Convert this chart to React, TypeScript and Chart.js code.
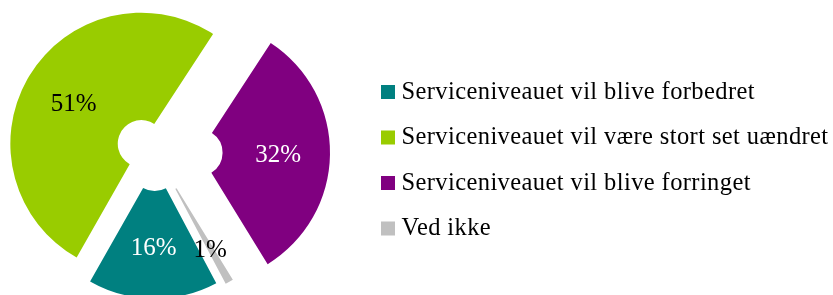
import React, { useEffect, useRef } from 'react';
import { Chart, registerables } from 'chart.js';

Chart.register(...registerables);

const categories = [
  'Serviceniveauet vil blive forbedret',
  'Serviceniveauet vil være stort set uændret',
  'Serviceniveauet vil blive forringet',
  'Ved ikke',
];
const values = [16, 51, 32, 1];
const percentLabels = ['16%', '51%', '32%', '1%'];

const sliceColors = ['#008080', '#99CC00', '#800080', '#C0C0C0'];
const labelColors = ['#FFFFFF', '#000000', '#FFFFFF', '#000000'];
// explosion distance (px) of each slice along its bisector
const explodeDistance = [15.5, 16, 44, 18.5];

const FONT_FAMILY = '"Liberation Serif", "Times New Roman", serif';

const explodePlugin = {
  id: 'explodeSlices',
  afterDatasetsUpdate(chart: any) {
    const meta = chart.getDatasetMeta(0);
    meta.data.forEach((arc: any, i: number) => {
      const mid = (arc.startAngle + arc.endAngle) / 2;
      const d = explodeDistance[i] || 0;
      arc.x += Math.cos(mid) * d;
      arc.y += Math.sin(mid) * d;
    });
  },
};

const sliceLabelPlugin = {
  id: 'sliceLabels',
  afterDatasetsDraw(chart: any) {
    const ctx = chart.ctx;
    const meta = chart.getDatasetMeta(0);
    ctx.save();
    ctx.font = `25px ${FONT_FAMILY}`;
    ctx.textAlign = 'center';
    ctx.textBaseline = 'middle';
    meta.data.forEach((arc: any, i: number) => {
      const mid = (arc.startAngle + arc.endAngle) / 2;
      let r = (arc.innerRadius + arc.outerRadius) / 2 + 2;
      if (values[i] < 5) r += 13;
      ctx.fillStyle = labelColors[i];
      ctx.fillText(percentLabels[i], arc.x + Math.cos(mid) * r, arc.y + Math.sin(mid) * r + 2);
    });
    ctx.restore();
  },
};

const legendPlugin = {
  id: 'sideLegend',
  afterDraw(chart: any) {
    const ctx = chart.ctx;
    const boxX = 381;
    const box = 14;
    const firstY = 92;
    const step = 45.5;
    ctx.save();
    ctx.font = `24.5px ${FONT_FAMILY}`;
    try {
      (ctx as any).letterSpacing = '0.4px';
    } catch (e) {
      /* ignore */
    }
    ctx.textAlign = 'left';
    ctx.textBaseline = 'alphabetic';
    categories.forEach((label, i) => {
      const cy = firstY + i * step;
      ctx.fillStyle = sliceColors[i];
      ctx.fillRect(boxX, cy - box / 2, box, box);
      ctx.fillStyle = '#000000';
      ctx.fillText(label, boxX + 20.5, cy + 6.5);
    });
    ctx.restore();
  },
};

export default function App() {
  const canvasRef = useRef<HTMLCanvasElement>(null);

  useEffect(() => {
    const canvas = canvasRef.current;
    if (!canvas) return;
    const chart = new Chart(canvas, {
      type: 'doughnut',
      data: {
        labels: categories,
        datasets: [
          {
            data: values,
            backgroundColor: sliceColors,
            borderWidth: 0,
          },
        ],
      },
      options: {
        responsive: false,
        animation: false,
        rotation: 152,
        cutout: '18%',
        radius: 131,
        layout: { padding: { left: 0, right: 523, top: 9, bottom: 0 } },
        events: [],
        plugins: {
          legend: { display: false },
          tooltip: { enabled: false },
        },
      } as any,
      plugins: [explodePlugin, sliceLabelPlugin, legendPlugin],
    });
    return () => chart.destroy();
  }, []);

  return (
    <div style={{ position: 'fixed', left: 0, top: 0, width: 833, height: 295, background: '#ffffff' }}>
      <canvas ref={canvasRef} width={833} height={295} style={{ display: 'block' }} />
    </div>
  );
}
